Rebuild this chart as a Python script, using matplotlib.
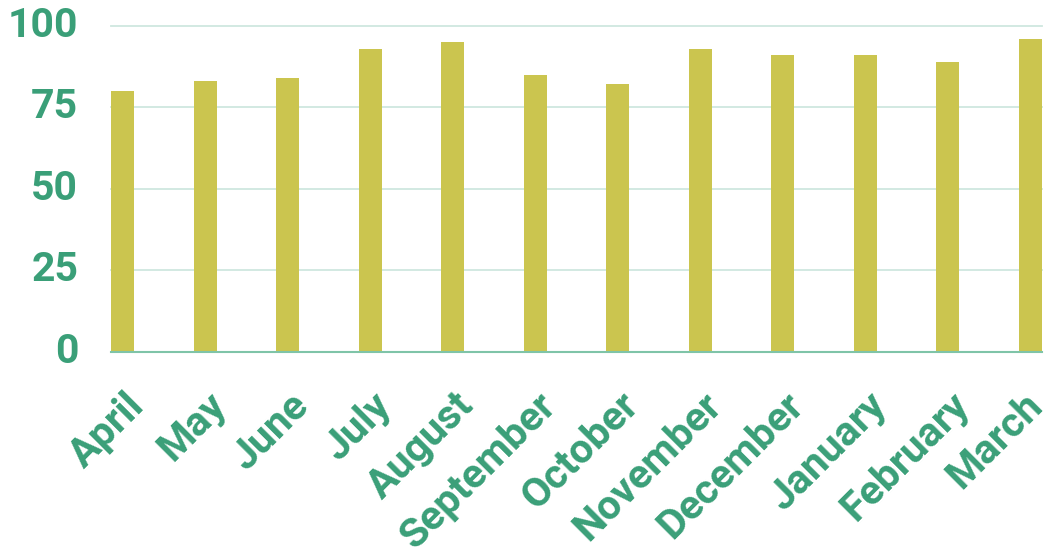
import matplotlib
matplotlib.use("Agg")
import matplotlib.pyplot as plt
from matplotlib.transforms import ScaledTranslation

months = ["April", "May", "June", "July", "August", "September",
          "October", "November", "December", "January", "February", "March"]
values = [80, 83, 84, 93, 95, 85, 82, 93, 91, 91, 89, 96]
y_ticks = [0, 25, 50, 75, 100]

BAR_COLOR = "#CBC54F"
TEXT_COLOR = "#3A9F78"
GRID_COLOR = "#CFE7DF"
AXIS_COLOR = "#7FC4A8"

plt.rcParams["font.family"] = ["Roboto", "DejaVu Sans"]

W, H, DPI = 1049, 548, 100
fig = plt.figure(figsize=(W / DPI, H / DPI), dpi=DPI)
ax = fig.add_axes([111 / W, (H - 351.7) / H, (1042 - 111) / W, 326 / H])

bar_w = 0.279
x = list(range(len(months)))
ax.bar(x, values, width=bar_w, color=BAR_COLOR, zorder=3)

ax.set_xlim(-bar_w / 2, len(months) - 1 + bar_w / 2)
ax.set_ylim(0, 100)
ax.set_yticks(y_ticks)
ax.set_yticklabels([str(v) for v in y_ticks])

ax.grid(axis="y", color=GRID_COLOR, linewidth=1.3, zorder=0, clip_on=False)
ax.set_axisbelow(True)
for side in ("top", "right", "left"):
    ax.spines[side].set_visible(False)
ax.spines["bottom"].set_color(AXIS_COLOR)
ax.spines["bottom"].set_linewidth(1.5)
ax.spines["bottom"].set_zorder(4)

ax.tick_params(axis="both", length=0, colors=TEXT_COLOR, labelsize=29.5)
ax.tick_params(axis="y", pad=23.5)
for lbl in ax.get_yticklabels():
    lbl.set_fontweight("bold")
    lbl.set_va("center")

ax.set_xticks(x)
ax.set_xticklabels(months, rotation=45, rotation_mode="anchor",
                   ha="right", va="baseline", fontweight="bold")
ax.tick_params(axis="x", pad=40)
for i, lbl in enumerate(ax.get_xticklabels()):
    dx = 23 if i < len(months) - 1 else 14
    lbl.set_transform(lbl.get_transform() +
                      ScaledTranslation(dx / DPI, 0, fig.dpi_scale_trans))

fig.savefig("out.png", dpi=DPI)
